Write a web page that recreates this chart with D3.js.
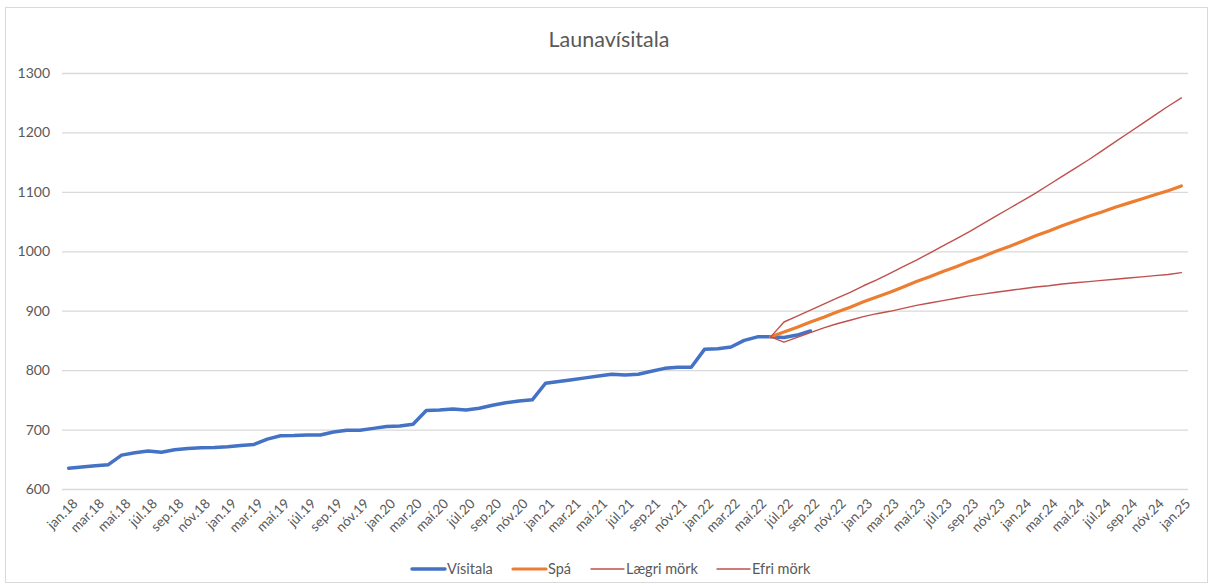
<!DOCTYPE html>
<html>
<head>
<meta charset="utf-8">
<script src="https://cdn.jsdelivr.net/npm/d3@7"></script>
<style>
  html, body { margin: 0; padding: 0; background: #fff; }
  svg { display: block; font-family: Lato, "Open Sans", sans-serif; }
</style>
</head>
<body>
<svg id="chart" width="1214" height="588"></svg>
<script>
// ---------- data ----------
const chartTitle = "Launavísitala";
const monthNames = ["jan", "feb", "mar", "apr", "maí", "jún", "júl", "ágú", "sep", "okt", "nóv", "des"];
const yearLabels = ["18", "19", "20", "21", "22", "23", "24", "25"];
const firstCategory = "jan.18";
const lastCategory = "jan.25";
const forecastStart = "jún.22";
const yTicks = [600, 700, 800, 900, 1000, 1100, 1200, 1300];
const seriesNames = ["Vísitala", "Spá", "Lægri mörk", "Efri mörk"];

// Vísitala: monthly from jan.18 to sep.22
const visitala = [
  635, 637, 639, 641, 657, 661, 664, 662, 666, 668, 669.5, 670,
  671, 673, 675, 684, 689.5, 690, 691, 691, 696, 699, 699, 702,
  705, 706, 709, 732, 733, 734.5, 733, 736, 741, 745, 748, 750,
  778, 781, 784, 787, 790, 793, 792, 793, 798, 803, 805, 805,
  835, 836, 839, 850, 856, 856, 855, 859, 866
];
// Forecast series: monthly from jún.22 to jan.25
const spa = [
  856, 864, 872, 881, 889, 898, 906, 915, 923, 931, 940, 949,
  957, 966, 974, 983, 991, 1000, 1008, 1017, 1026, 1034, 1043, 1051,
  1059, 1066, 1074, 1081, 1088, 1095, 1102, 1110
];
const laegriMork = [
  856, 847, 855, 863, 871, 878, 884, 890, 895, 899, 904, 909,
  913, 917, 921, 925, 928, 931, 934, 937, 940, 942, 945, 947,
  949, 951, 953, 955, 957, 959, 961, 964
];
const efriMork = [
  856, 881, 891, 901, 911, 921, 931, 942, 952, 963, 974, 985,
  997, 1009, 1021, 1033, 1046, 1059, 1072, 1085, 1098, 1112, 1126, 1140,
  1154, 1169, 1184, 1199, 1214, 1229, 1244, 1258
];

// ---------- categories ----------
const allCats = [];
yearLabels.forEach(y => monthNames.forEach(m => allCats.push(m + "." + y)));
const categories = allCats.slice(allCats.indexOf(firstCategory), allCats.indexOf(lastCategory) + 1);
const fIdx = categories.indexOf(forecastStart);

const series = [
  { name: seriesNames[0], values: visitala.map((v, i) => ({ c: categories[i], v })), color: "#4472C4", width: 3.5 },
  { name: seriesNames[1], values: spa.map((v, i) => ({ c: categories[fIdx + i], v })), color: "#ED7D31", width: 3.2 },
  { name: seriesNames[2], values: laegriMork.map((v, i) => ({ c: categories[fIdx + i], v })), color: "#C0504D", width: 1.4 },
  { name: seriesNames[3], values: efriMork.map((v, i) => ({ c: categories[fIdx + i], v })), color: "#C0504D", width: 1.4 }
];

// ---------- layout ----------
const svg = d3.select("#chart");
const plot = { left: 62, right: 1188, top: 73, bottom: 489 };

svg.append("rect")
  .attr("x", 5.5).attr("y", 7.5).attr("width", 1202).attr("height", 575)
  .attr("fill", "#fff").attr("stroke", "#D9D9D9").attr("stroke-width", 1);

const x = d3.scalePoint().domain(categories).range([plot.left, plot.right]).padding(0.5);
const y = d3.scaleLinear().domain([600, 1300]).range([plot.bottom, plot.top]);

// title
svg.append("text")
  .attr("x", 609).attr("y", 47)
  .attr("text-anchor", "middle")
  .attr("font-size", 21.5).attr("fill", "#595959")
  .text(chartTitle);

// gridlines + y labels
const yAxis = d3.axisLeft(y).tickValues(yTicks).tickFormat(d3.format("d"))
  .tickSize(-(plot.right - plot.left)).tickPadding(12);
const gy = svg.append("g").attr("transform", `translate(${plot.left},0)`).call(yAxis);
gy.select(".domain").remove();
gy.selectAll(".tick line").attr("stroke", "#D9D9D9").attr("stroke-width", 1.3);
gy.selectAll(".tick text").attr("fill", "#595959").attr("font-size", 14).attr("font-family", "Lato, sans-serif");

// x labels (every second month)
const xAxis = d3.axisBottom(x)
  .tickValues(categories.filter((c, i) => i % 2 === 0))
  .tickSize(0);
const gx = svg.append("g").attr("transform", `translate(0,${plot.bottom})`).call(xAxis);
gx.select(".domain").remove();
gx.selectAll(".tick text")
  .attr("fill", "#595959").attr("font-size", 13.5).attr("font-family", "Lato, sans-serif")
  .attr("text-anchor", "end")
  .attr("transform", "translate(6,12) rotate(-45)")
  .attr("dy", "0.35em").attr("y", 0).attr("x", 0);

// lines
const line = d3.line().x(d => x(d.c)).y(d => y(d.v));
series.forEach(s => {
  svg.append("path")
    .datum(s.values)
    .attr("fill", "none")
    .attr("stroke", s.color)
    .attr("stroke-width", s.width)
    .attr("stroke-linejoin", "round")
    .attr("stroke-linecap", "round")
    .attr("d", line);
});

// legend
const legendItems = [
  { s: series[0], x: 412 },
  { s: series[1], x: 513 },
  { s: series[2], x: 591 },
  { s: series[3], x: 717 }
];
const ly = 569;
legendItems.forEach(it => {
  svg.append("line")
    .attr("x1", it.x).attr("x2", it.x + 33).attr("y1", ly).attr("y2", ly)
    .attr("stroke", it.s.color).attr("stroke-width", it.s.width).attr("stroke-linecap", "round");
  svg.append("text")
    .attr("x", it.x + 35).attr("y", ly).attr("dy", "0.35em")
    .attr("font-size", 14.5).attr("fill", "#595959")
    .text(it.s.name);
});
</script>
</body>
</html>
